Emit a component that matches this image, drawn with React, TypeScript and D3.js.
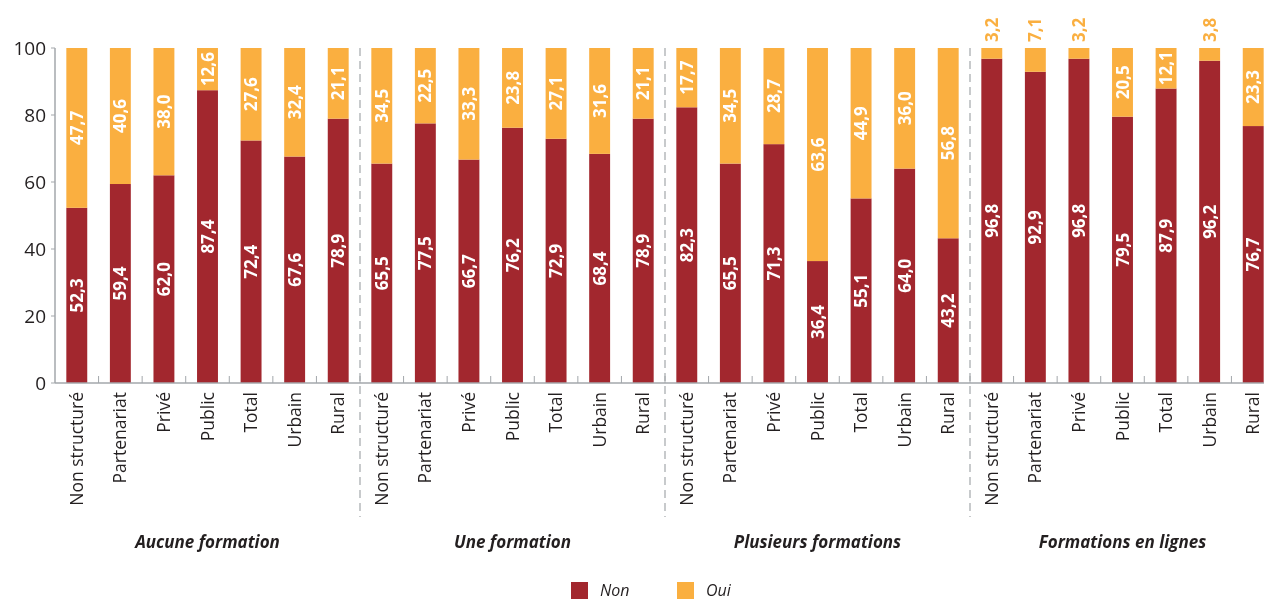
import React from "react";
import * as d3 from "d3";

const categories = ["Non structuré", "Partenariat", "Privé", "Public", "Total", "Urbain", "Rural"];
const groups = ["Aucune formation", "Une formation", "Plusieurs formations", "Formations en lignes"];
const nonValues = [
  [52.3, 59.4, 62.0, 87.4, 72.4, 67.6, 78.9],
  [65.5, 77.5, 66.7, 76.2, 72.9, 68.4, 78.9],
  [82.3, 65.5, 71.3, 36.4, 55.1, 64.0, 43.2],
  [96.8, 92.9, 96.8, 79.5, 87.9, 96.2, 76.7],
];
const ouiValues = [
  [47.7, 40.6, 38.0, 12.6, 27.6, 32.4, 21.1],
  [34.5, 22.5, 33.3, 23.8, 27.1, 31.6, 21.1],
  [17.7, 34.5, 28.7, 63.6, 44.9, 36.0, 56.8],
  [3.2, 7.1, 3.2, 20.5, 12.1, 3.8, 23.3],
];
const yTicks = [0, 20, 40, 60, 80, 100];
const seriesNames = ["Non", "Oui"];

const RED = "#A2272E";
const ORANGE = "#FAAF40";
const AXIS = "#A3A7AB";
const TEXT = "#231F20";
const FONT = "'Open Sans', sans-serif";

type Row = { key: string; g: number; c: number; cat: string; non: number; oui: number };

const rows: Row[] = [];
groups.forEach((g, gi) =>
  categories.forEach((c, ci) =>
    rows.push({ key: `${gi}-${ci}`, g: gi, c: ci, cat: c, non: nonValues[gi][ci], oui: ouiValues[gi][ci] })
  )
);

const fmt = (v: number) => v.toFixed(1).replace(".", ",");

export default function App() {
  const W = 1264, H = 600;
  const left = 55, right = 1275, y0 = 383, y100 = 48;
  const x = d3.scaleBand<string>().domain(rows.map(r => r.key)).range([left, right]).paddingInner(0.52).paddingOuter(0.26);
  const y = d3.scaleLinear().domain([0, 100]).range([y0, y100]);
  const step = x.step();
  const bw = x.bandwidth();
  const stack = d3.stack<Row>().keys(["non", "oui"])(rows as any);

  const bounds = d3.range(1, rows.length).map(i => left + i * step);

  return (
    <div style={{ position: "fixed", left: 0, top: 0, width: W, height: H, overflow: "hidden" }}>
      <svg width={W} height={H} style={{ display: "block", fontFamily: FONT }}>
        {/* bars */}
        {stack.map((s, si) => (
          <g key={si} fill={si === 0 ? RED : ORANGE}>
            {s.map((d, i) => (
              <rect key={i} x={x(rows[i].key)!} y={y(d[1])} width={bw} height={y(d[0]) - y(d[1])} />
            ))}
          </g>
        ))}
        {/* axes */}
        <line x1={left} x2={W} y1={y0} y2={y0} stroke={AXIS} strokeWidth={1.5} />
        <line x1={left} x2={left} y1={y100} y2={y0} stroke={AXIS} strokeWidth={1.5} />
        {bounds.map((b, i) => (
          <line key={i} x1={b} x2={b} y1={y0} y2={y0 - 7} stroke={AXIS} strokeWidth={1} />
        ))}
        {yTicks.map(t => (
          <g key={t}>
            <line x1={left - 4} x2={left} y1={y(t)} y2={y(t)} stroke={AXIS} strokeWidth={1} />
            <text x={46} y={y(t)} dy="0.35em" textAnchor="end" fontSize={19} fill={TEXT}>{t}</text>
          </g>
        ))}
        {/* group separators */}
        {[7, 14, 21].map(k => (
          <line key={k} x1={left + k * step} x2={left + k * step} y1={y100} y2={517} stroke={AXIS} strokeWidth={1.2} strokeDasharray="8,5" />
        ))}
        {/* value labels */}
        {rows.map(r => {
          const cx = x(r.key)! + bw / 2;
          const nonMid = y(r.non / 2);
          const ouiMid = y(r.non + r.oui / 2);
          const outside = r.oui < 10;
          return (
            <g key={r.key} fontWeight={700} fontSize={17}>
              <text transform={`translate(${cx},${nonMid}) rotate(-90)`} textAnchor="middle" dy="0.36em" fill="#fff">{fmt(r.non)}</text>
              {outside ? (
                <text transform={`translate(${cx},${y(100) - 6}) rotate(-90)`} textAnchor="start" dy="0.36em" fill={ORANGE}>{fmt(r.oui)}</text>
              ) : (
                <text transform={`translate(${cx},${ouiMid}) rotate(-90)`} textAnchor="middle" dy="0.36em" fill="#fff">{fmt(r.oui)}</text>
              )}
            </g>
          );
        })}
        {/* category labels */}
        {rows.map(r => (
          <text key={r.key} transform={`translate(${x(r.key)! + bw / 2},${y0 + 9}) rotate(-90)`} textAnchor="end" dy="0.35em" fontSize={17.5} fill={TEXT}>{r.cat}</text>
        ))}
        {/* group labels */}
        {groups.map((g, gi) => (
          <text key={g} x={left + (gi * 7 + 3.5) * step} y={548} textAnchor="middle" fontSize={17} fontWeight={700} fontStyle="italic" fill={TEXT}>{g}</text>
        ))}
        {/* legend */}
        {seriesNames.map((n, i) => (
          <g key={n} transform={`translate(${571 + i * 106},582)`}>
            <rect width={17} height={17} fill={i === 0 ? RED : ORANGE} />
            <text x={29} y={14} fontSize={16} fontStyle="italic" fill={TEXT}>{n}</text>
          </g>
        ))}
      </svg>
    </div>
  );
}
